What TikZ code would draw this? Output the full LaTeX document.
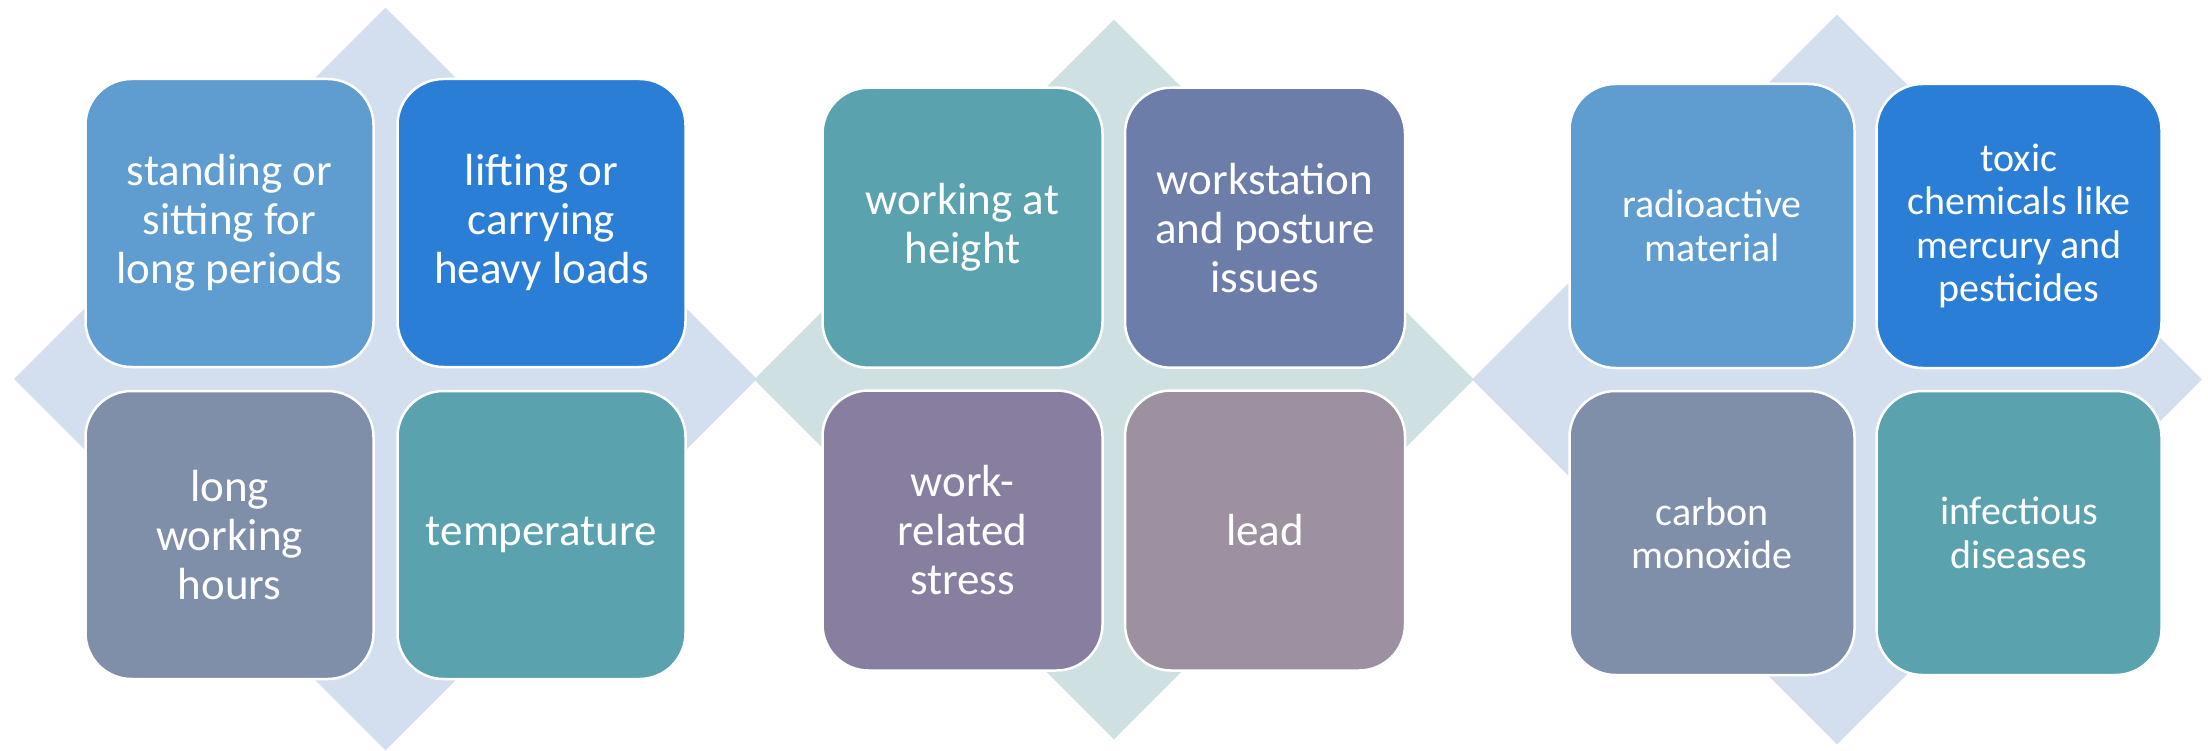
\documentclass[tikz,border=0pt]{standalone}
\usepackage{fontspec}
\setmainfont{Carlito}
\usetikzlibrary{shapes.geometric}

\definecolor{paleblue}{HTML}{D3DFEE}
\definecolor{paleteal}{HTML}{CFE0E3}
\definecolor{skyblue}{HTML}{5F9CD0}
\definecolor{deepblue}{HTML}{2B7ED6}
\definecolor{slategray}{HTML}{7F8FA9}
\definecolor{tealgreen}{HTML}{5BA2AF}
\definecolor{indigo}{HTML}{6B7DA8}
\definecolor{violet}{HTML}{887FA0}
\definecolor{mauve}{HTML}{9D90A0}

\begin{document}
\begin{tikzpicture}[x=1pt,y=-1pt,
    backing/.style ={diamond, draw=none, inner sep=0pt},
    tile/.style ={rectangle, rounded corners=46pt, draw=white, line width=2.5pt,
      text=white, align=center, inner sep=0pt, font=\fontsize{45}{49}\selectfont},
    smalltile/.style ={tile, font=\fontsize{40}{43.5}\selectfont}]
   \useasboundingbox (0,0) rectangle (2208,751);

   % background diamonds
   \node[backing,fill=paleblue,minimum width=743pt,minimum height=743pt] (D1) at (385.5,379) {};
   \node[backing,fill=paleteal,minimum width=720pt,minimum height=720pt] (D2) at (1114,379.5) {};
   \node[backing,fill=paleblue,minimum width=730pt,minimum height=730pt] (D3) at (1837,379.5) {};

   % first group
   \node[tile,fill=skyblue,minimum width=288pt,minimum height=288pt] (A1) at (229.5,223) {standing or\\sitting for\\long periods};
   \node[tile,fill=deepblue,minimum width=288pt,minimum height=288pt] (B1) at (541.5,223) {lifting or\\carrying\\heavy loads};
   \node[tile,fill=slategray,minimum width=288pt,minimum height=288pt] (C1) at (229.5,535) {long\\working\\hours};
   \node[tile,fill=tealgreen,minimum width=288pt,minimum height=288pt] (E1) at (541.5,535) {temperature};

   % second group
   \node[tile,fill=tealgreen,minimum width=280pt,minimum height=280pt] (A2) at (962.5,227.7) {working at\\height};
   \node[tile,fill=indigo,minimum width=280pt,minimum height=280pt] (B2) at (1265,227.7) {workstation\\and posture\\issues};
   \node[tile,fill=violet,minimum width=280pt,minimum height=280pt] (C2) at (962.5,530.5) {work-\\related\\stress};
   \node[tile,fill=mauve,minimum width=280pt,minimum height=280pt] (E2) at (1265,530.5) {lead};

   % third group
   \node[smalltile,fill=skyblue,minimum width=285pt,minimum height=284pt] (A3) at (1712,226) {radioactive\\material};
   \node[smalltile,fill=deepblue,minimum width=285pt,minimum height=284pt] (B3) at (2019,226) {toxic\\chemicals like\\mercury and\\pesticides};
   \node[smalltile,fill=slategray,minimum width=285pt,minimum height=284pt] (C3) at (1712,533) {carbon\\monoxide};
   \node[smalltile,fill=tealgreen,minimum width=285pt,minimum height=284pt] (E3) at (2019,533) {infectious\\diseases};
\end{tikzpicture}
\end{document}
